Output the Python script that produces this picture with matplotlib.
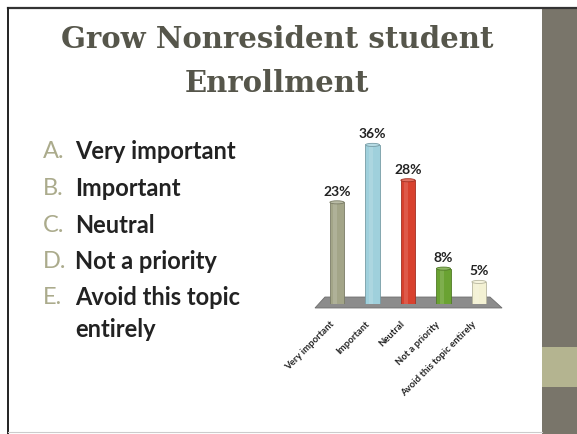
"""Survey slide: 'Grow Nonresident student Enrollment' with answer list and bar chart."""
import matplotlib
matplotlib.use("Agg")
import matplotlib.pyplot as plt
from matplotlib.patches import Rectangle, Polygon, Ellipse
from matplotlib.colors import to_rgb

# ---- data ----
letters = ["A.", "B.", "C.", "D.", "E."]
answers = ["Very important", "Important", "Neutral", "Not a priority",
           "Avoid this topic\nentirely"]
categories = ["Very important", "Important", "Neutral", "Not a priority",
              "Avoid this topic entirely"]
shares = [23, 36, 28, 8, 5]
bar_colors = ["#a3a588", "#9fd0dc", "#d8412e", "#6aa232", "#f3f1d3"]

INK = "#222222"
TITLE = "#56564b"
LETTER = "#abab8c"
STRIP = "#79756a"
BAND = "#b4b490"
SANS = ["Lato", "DejaVu Sans"]


def shade(c, f):
    r, g, b = to_rgb(c)
    if f >= 0:
        return (r + (1 - r) * f, g + (1 - g) * f, b + (1 - b) * f)
    return (r * (1 + f), g * (1 + f), b * (1 + f))


def main():
    W, H = 577, 435
    fig = plt.figure(figsize=(W / 100, H / 100), dpi=100)

    # ---- slide background in pixel coords ----
    bg = fig.add_axes([0, 0, 1, 1], zorder=0)
    bg.set_xlim(0, W); bg.set_ylim(H, 0); bg.axis("off")
    bg.add_patch(Rectangle((542, 9), 35, H - 9, color=STRIP, lw=0))
    bg.add_patch(Rectangle((542, 348), 35, 40, color=BAND, lw=0))
    bg.plot([8, W], [9, 9], color="#333333", lw=1.6)
    bg.plot([8, 8], [9, H], color="#222222", lw=1.4)
    bg.plot([8, 542], [433, 433], color="#cccccc", lw=0.8)

    for y, line in [(40, "Grow Nonresident student"), (83, "Enrollment")]:
        bg.text(277, y, line, ha="center", va="center", fontsize=21,
                fontweight="bold", color=TITLE, family="DejaVu Serif")

    # ---- answer list ----
    ys = [152, 189, 226, 262, 298]
    for y, let, ans in zip(ys, letters, answers):
        bg.text(43, y, let, ha="left", va="center", fontsize=17, color=LETTER,
                family=SANS)
        for k, part in enumerate(ans.split("\n")):
            bg.text(75, y + k * 32, part, ha="left", va="center", fontsize=17,
                    fontweight="bold", color=INK, family=SANS)

    # ---- bar chart ----
    ppu = 4.42                      # pixels per percentage point
    left, base = 319.25, 305
    ax = fig.add_axes([left / W, (H - base) / H, 177.5 / W, 40 * ppu / H],
                      zorder=2)
    ax.set_xlim(-0.5, 4.5); ax.set_ylim(0, 40); ax.axis("off")
    ax.patch.set_alpha(0)

    floor = Polygon([(-0.62, -0.9), (4.65, -0.9), (4.31, 1.58), (-0.34, 1.58)],
                    closed=True, fc="#8c8c8c", ec="#6e6e6e", lw=0.6,
                    clip_on=False, zorder=1)
    ax.add_patch(floor)

    x = list(range(len(shares)))
    bw = 0.4
    ax.bar(x, shares, width=bw, color=bar_colors,
           edgecolor=[shade(c, -0.25) for c in bar_colors], lw=0.6, zorder=3)
    # soft highlight for the rounded look
    ax.bar([i - 0.05 for i in x], shares, width=0.12,
           color=[shade(c, 0.3) for c in bar_colors], alpha=0.45, lw=0, zorder=4)
    for i, (v, c) in enumerate(zip(shares, bar_colors)):
        ax.add_patch(Ellipse((i, v), bw, 0.7, fc=shade(c, 0.25),
                             ec=shade(c, -0.25), lw=0.6, zorder=5))
        ax.text(i, v + 2.6, f"{v}%", ha="center", va="center", fontsize=10,
                fontweight="bold", color=INK, family=SANS)
        ax.text(i - 0.22, -3.3, categories[i], ha="right", va="top", rotation=45,
                rotation_mode="anchor", fontsize=6.8, fontweight="bold",
                color=INK, family=SANS, clip_on=False)

    fig.savefig("out.png", dpi=100)


if __name__ == "__main__":
    main()
